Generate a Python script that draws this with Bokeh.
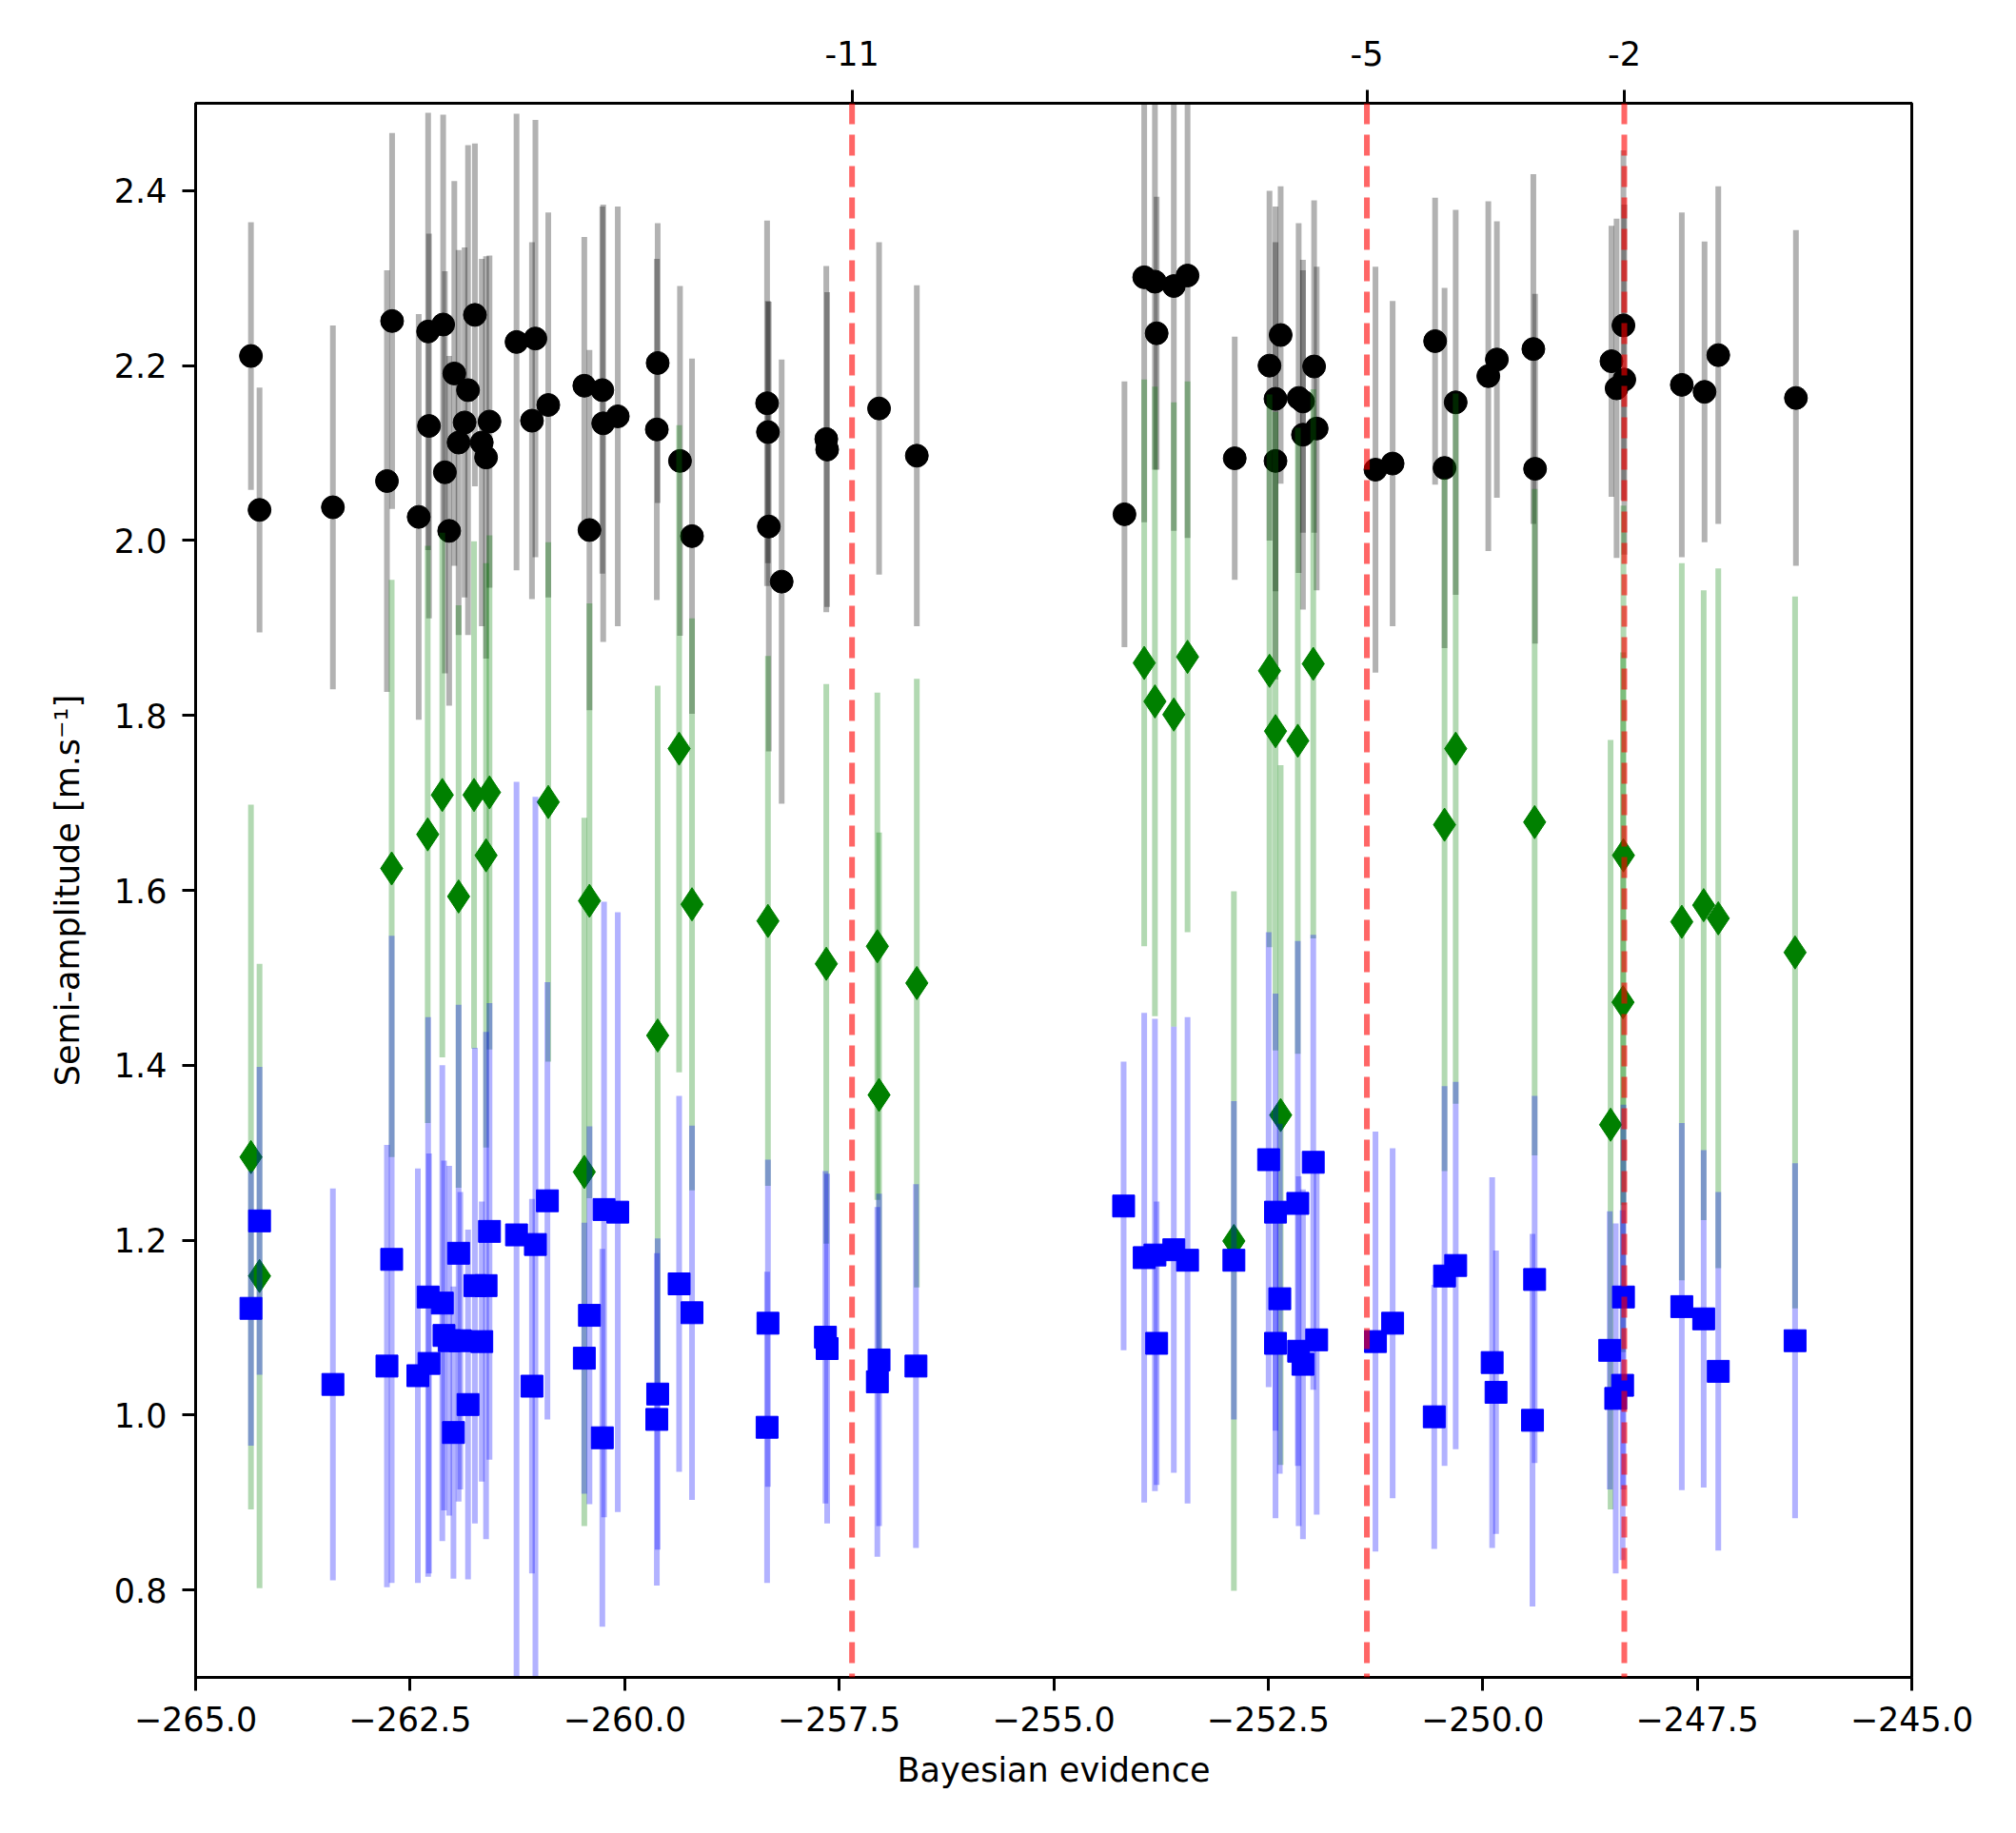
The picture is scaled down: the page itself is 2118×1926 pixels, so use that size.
import numpy as np
from bokeh.plotting import figure
from bokeh.models import (ColumnDataSource, Range1d, FixedTicker, LinearAxis, Span)
from bokeh.embed import file_html
from bokeh.resources import INLINE

# ---------------- data ----------------
black_x = [-264.355, -264.255, -263.40, -262.77, -262.71, -262.40, -262.29, -262.28,
           -262.115, -262.095, -262.045, -261.985, -261.935, -261.865, -261.825, -261.745,
           -261.665, -261.615, -261.575, -261.26, -261.08, -261.04, -260.89, -260.47,
           -260.41, -260.26, -260.25, -260.08,
           -259.625, -259.615, -259.355, -259.215, -258.34, -258.33, -258.32, -258.17,
           -257.65, -257.64, -257.035, -256.595,
           -254.175, -253.945, -253.82, -253.80, -253.60, -253.44, -252.89, -252.485,
           -252.415, -252.415, -252.355, -252.145, -252.095, -252.095, -251.965, -251.935,
           -251.25, -251.05, -250.555, -250.445, -250.315, -249.935, -249.835, -249.41,
           -249.39, -248.50, -248.44, -248.36, -248.35, -247.68, -247.415, -247.255,
           -246.35]
black_y = [2.211, 2.035, 2.038, 2.068, 2.251, 2.027, 2.239, 2.131,
           2.247, 2.078, 2.011, 2.191, 2.112, 2.135, 2.172, 2.258,
           2.112, 2.095, 2.136, 2.227, 2.137, 2.231, 2.155, 2.177,
           2.012, 2.172, 2.134, 2.142,
           2.127, 2.203, 2.091, 2.005, 2.157, 2.124, 2.016, 1.953,
           2.116, 2.104, 2.151, 2.097,
           2.030, 2.301, 2.296, 2.237, 2.291, 2.303, 2.094, 2.200,
           2.162, 2.091, 2.235, 2.163, 2.159, 2.121, 2.199, 2.128,
           2.081, 2.088, 2.228, 2.083, 2.158, 2.188, 2.207, 2.219,
           2.082, 2.205, 2.174, 2.246, 2.184, 2.178, 2.170, 2.212,
           2.163]
black_err = [0.153, 0.140, 0.208, 0.241, 0.215, 0.232, 0.250, 0.220,
             0.240, 0.230, 0.200, 0.220, 0.220, 0.200, 0.280, 0.196,
             0.210, 0.230, 0.190, 0.261, 0.204, 0.250, 0.220, 0.170,
             0.206, 0.210, 0.250, 0.240,
             0.195, 0.160, 0.200, 0.203, 0.209, 0.150, 0.257, 0.254,
             0.198, 0.180, 0.190, 0.195,
             0.152, 0.280, 0.215, 0.156, 0.280, 0.300, 0.139, 0.200,
             0.220, 0.250, 0.170, 0.200, 0.150, 0.200, 0.190, 0.185,
             0.232, 0.186, 0.164, 0.206, 0.220, 0.200, 0.158, 0.200,
             0.200, 0.155, 0.194, 0.200, 0.200, 0.197, 0.172, 0.193,
             0.192]

green_x = [-264.355, -264.255, -262.715, -262.295, -262.125, -261.935, -261.755, -261.575,
           -261.615, -260.89, -260.41, -260.47,
           -259.365, -259.615, -259.215, -258.33, -257.65, -257.055, -257.035, -256.595,
           -253.945, -253.82, -253.60, -253.44, -252.485, -251.975, -252.415, -252.155,
           -252.355, -252.90, -250.445, -250.315, -249.395, -248.36, -248.365, -248.51,
           -247.68, -247.425, -247.255, -246.36]
green_y = [1.295, 1.159, 1.625, 1.664, 1.709, 1.593, 1.709, 1.712,
           1.640, 1.701, 1.588, 1.278,
           1.762, 1.434, 1.584, 1.565, 1.516, 1.536, 1.366, 1.494,
           1.860, 1.816, 1.801, 1.867, 1.851, 1.859, 1.782, 1.771,
           1.343, 1.199, 1.675, 1.762, 1.678, 1.640, 1.472, 1.332,
           1.564, 1.583, 1.568, 1.529]
green_err = [0.403, 0.357, 0.330, 0.330, 0.300, 0.333, 0.290, 0.294,
             0.334, 0.297, 0.340, 0.405,
             0.370, 0.400, 0.327, 0.303, 0.320, 0.290, 0.300, 0.348,
             0.324, 0.360, 0.357, 0.315, 0.316, 0.314, 0.365, 0.358,
             0.400, 0.400, 0.396, 0.406, 0.381, 0.400, 0.400, 0.440,
             0.410, 0.360, 0.400, 0.407]

blue_x = [-264.355, -264.255, -263.40, -262.715, -262.77, -262.29, -262.28, -262.41,
          -262.125, -262.105, -261.935, -262.045, -261.915, -261.665, -261.745, -261.615,
          -261.575, -261.825, -261.995, -261.26, -261.04, -260.90, -261.08, -260.41,
          -260.47, -260.24, -260.08, -260.26,
          -259.365, -259.215, -259.615, -259.625, -258.33, -258.34, -257.66, -257.64,
          -257.035, -257.055, -256.605,
          -254.185, -253.945, -253.82, -253.80, -253.60, -253.44, -252.90, -252.495,
          -252.415, -252.365, -252.415, -251.975, -252.155, -252.145, -252.095, -251.935,
          -251.25, -251.05, -250.565, -250.445, -250.315,
          -249.89, -249.845, -249.395, -249.42, -248.36, -248.52, -248.37, -248.45,
          -247.68, -247.425, -247.255, -246.36]
blue_y = [1.122, 1.222, 1.035, 1.178, 1.056, 1.135, 1.059, 1.045,
          1.128, 1.091, 1.185, 1.085, 1.085, 1.084, 1.148, 1.148,
          1.210, 1.012, 0.980, 1.206, 1.195, 1.245, 1.033, 1.114,
          1.065, 1.235, 1.232, 0.974,
          1.150, 1.117, 1.024, 0.995, 1.105, 0.986, 1.089, 1.076,
          1.063, 1.038, 1.056,
          1.239, 1.180, 1.183, 1.082, 1.189, 1.177, 1.177, 1.292,
          1.232, 1.133, 1.082, 1.289, 1.242, 1.073, 1.058, 1.086,
          1.084, 1.105, 0.998, 1.159, 1.171,
          1.060, 1.026, 1.155, 0.994, 1.135, 1.074, 1.034, 1.019,
          1.124, 1.110, 1.050, 1.085]
blue_err = [0.157, 0.176, 0.224, 0.370, 0.253, 0.320, 0.240, 0.237,
            0.272, 0.200, 0.284, 0.200, 0.170, 0.160, 0.272, 0.290,
            0.261, 0.200, 0.167, 0.518, 0.512, 0.250, 0.214, 0.216,
            0.155, 0.352, 0.343, 0.216,
            0.215, 0.214, 0.178, 0.190, 0.187, 0.178, 0.190, 0.200,
            0.190, 0.200, 0.208,
            0.165, 0.280, 0.270, 0.162, 0.255, 0.278, 0.182, 0.260,
            0.250, 0.200, 0.200, 0.260, 0.300, 0.200, 0.200, 0.200,
            0.240, 0.200, 0.151, 0.217, 0.210,
            0.212, 0.162, 0.210, 0.213, 0.220, 0.159, 0.200, 0.200,
            0.210, 0.193, 0.205, 0.203]

evidence_lines = [-257.35, -251.35, -248.35]
evidence_labels = ["-11", "-5", "-2"]

xticks = [-265.0, -262.5, -260.0, -257.5, -255.0, -252.5, -250.0, -247.5, -245.0]
xtick_labels = ["\u2212265.0", "\u2212262.5", "\u2212260.0", "\u2212257.5", "\u2212255.0",
                "\u2212252.5", "\u2212250.0", "\u2212247.5", "\u2212245.0"]
yticks = [0.8, 1.0, 1.2, 1.4, 1.6, 1.8, 2.0, 2.2, 2.4]
ytick_labels = ["0.8", "1.0", "1.2", "1.4", "1.6", "1.8", "2.0", "2.2", "2.4"]

x_label = "Bayesian evidence"
y_label = "Semi-amplitude [m.s\u207b\u00b9]"

# ---------------- figure ----------------
FONT = "DejaVu Sans"
FS = "35px"

p = figure(frame_width=1803, frame_height=1654,
           x_range=Range1d(-265, -245), y_range=Range1d(0.7, 2.5),
           output_backend="svg", toolbar_location=None,
           min_border_left=205, min_border_right=94,
           min_border_top=108, min_border_bottom=148)
p.xgrid.visible = False
p.ygrid.visible = False
p.outline_line_color = "black"
p.outline_line_width = 3
p.outline_line_alpha = 1.0
p.background_fill_color = "white"
p.border_fill_color = "white"


def style_axis(ax):
    ax.axis_line_width = 3
    ax.axis_line_color = "black"
    ax.major_tick_line_width = 3
    ax.major_tick_line_color = "black"
    ax.major_tick_out = 14
    ax.major_tick_in = 0
    ax.minor_tick_line_color = None
    ax.major_label_text_font = FONT
    ax.major_label_text_font_size = FS
    ax.major_label_text_color = "black"
    ax.major_label_standoff = 16
    ax.axis_label_text_font = FONT
    ax.axis_label_text_font_size = FS
    ax.axis_label_text_font_style = "normal"
    ax.axis_label_text_color = "black"


p.xaxis.ticker = FixedTicker(ticks=xticks)
p.xaxis.major_label_overrides = dict(zip(xticks, xtick_labels))
p.yaxis.ticker = FixedTicker(ticks=yticks)
p.yaxis.major_label_overrides = dict(zip(yticks, ytick_labels))
p.xaxis.axis_label = x_label
p.yaxis.axis_label = y_label
style_axis(p.xaxis[0])
style_axis(p.yaxis[0])
p.xaxis.axis_label_standoff = 18
p.yaxis.axis_label_standoff = 26

top = LinearAxis(ticker=FixedTicker(ticks=evidence_lines),
                 major_label_overrides=dict(zip(evidence_lines, evidence_labels)))
style_axis(top)
top.major_label_standoff = 26
p.add_layout(top, "above")


def series(xs, ys, es):
    xs = np.asarray(xs, dtype=float)
    ys = np.asarray(ys, dtype=float)
    es = np.asarray(es, dtype=float)
    return ColumnDataSource(dict(x=xs, y=ys, lo=ys - es, hi=ys + es))


src_k = series(black_x, black_y, black_err)
src_g = series(green_x, green_y, green_err)
src_b = series(blue_x, blue_y, blue_err)

# black: errorbars then markers
p.segment(x0="x", y0="lo", x1="x", y1="hi", source=src_k,
          line_color="black", line_alpha=0.3, line_width=6)
p.scatter(x="x", y="y", source=src_k, marker="circle", size=24,
          fill_color="black", line_color="black", line_width=1)

# green
p.segment(x0="x", y0="lo", x1="x", y1="hi", source=src_g,
          line_color="#008000", line_alpha=0.3, line_width=6)
p.scatter(x="x", y="y", source=src_g, marker="diamond", size=35,
          fill_color="#008000", line_color="#008000", line_width=1)

# blue
p.segment(x0="x", y0="lo", x1="x", y1="hi", source=src_b,
          line_color="#0000ff", line_alpha=0.3, line_width=6)
p.scatter(x="x", y="y", source=src_b, marker="square", size=23,
          fill_color="#0000ff", line_color="#0000ff", line_width=1)

for loc in evidence_lines:
    p.add_layout(Span(location=loc, dimension="height", line_color="red",
                      line_alpha=0.6, line_dash="22 11", line_width=6))

open("out.html", "w").write(file_html(p, INLINE))
